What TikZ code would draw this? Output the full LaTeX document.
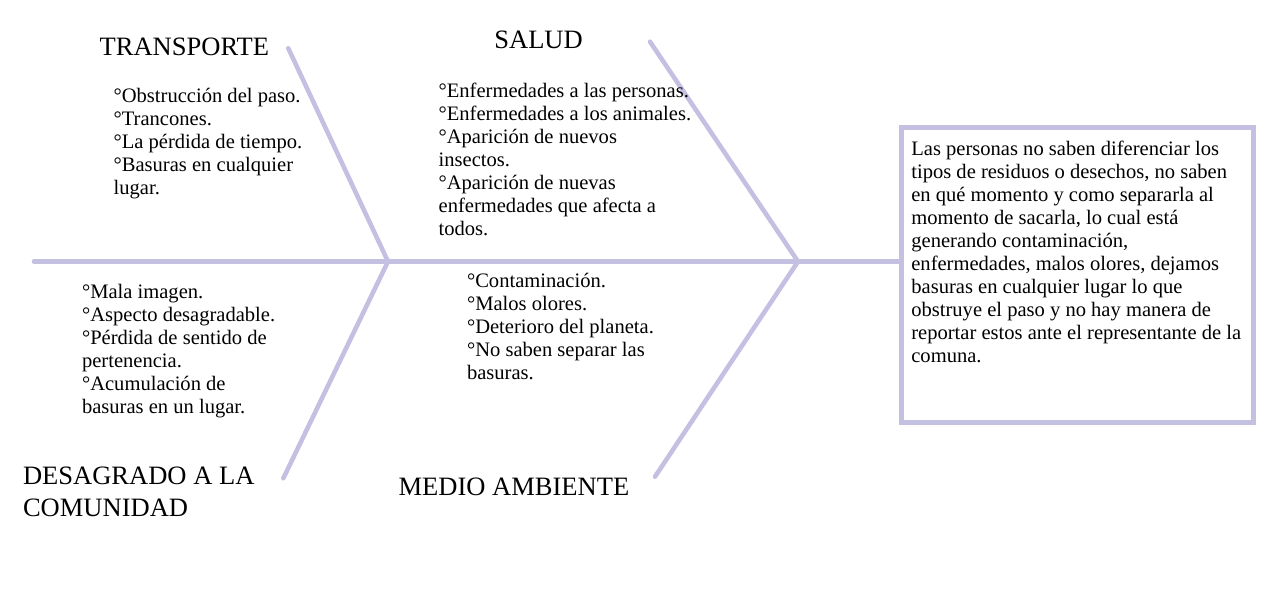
\documentclass[tikz,border=0pt]{standalone}
\usepackage{fontspec}
\setmainfont{Liberation Serif}
\usepackage{xcolor}
\usetikzlibrary{positioning}
\definecolor{lila}{RGB}{196,192,226}

\begin{document}
\begin{tikzpicture}[
  x=0.02cm, y=-0.02cm,
  espina/.style={draw=lila,line width=2.6pt,line cap=round},
  caja/.style={draw=lila,line width=2.85pt,minimum width=7.05cm,minimum height=5.9cm,
               inner sep=0pt,outer sep=0pt,anchor=north west},
  titulo/.style={font=\fontsize{15.1}{18}\selectfont,align=left,inner sep=0pt},
  lista/.style={font=\fontsize{11.7}{13.1}\selectfont,align=left,inner sep=0pt,anchor=north west}
]
\useasboundingbox (0,0) rectangle (1269,589);

% espina central y uniones
\coordinate (cola) at (34,261.5);
\coordinate (u1) at (388,261.5);
\coordinate (u2) at (798,261.5);
\coordinate (transp) at (288.3,48.3);
\coordinate (salud) at (650,41.7);
\coordinate (desag) at (283.3,478.3);
\coordinate (medio) at (655,476.7);

% efecto
\node[caja] (efecto) at (901.5,127.5) {};
\node[lista] (problema) at (911,141) {Las personas no saben diferenciar los\\
  tipos de residuos o desechos, no saben\\
  en qué momento y como separarla al\\
  momento de sacarla, lo cual está\\
  generando contaminación,\\
  enfermedades, malos olores, dejamos\\
  basuras en cualquier lugar lo que\\
  obstruye el paso y no hay manera de\\
  reportar estos ante el representante de la\\
  comuna.};

\draw[espina] (cola) -- (cola -| efecto.west);
\draw[espina] (transp) -- (u1) -- (desag);
\draw[espina] (salud) -- (u2) -- (medio);

% categorias
\node[titulo,anchor=base west] (tTransp) at (99.3,55) {TRANSPORTE};
\node[titulo,anchor=base west] (tSalud) at (494,48.3) {SALUD};
\node[titulo,anchor=north west] (tDesag) at (22.7,467) {DESAGRADO A LA\\COMUNIDAD};
\node[titulo,anchor=base west] (tMedio) at (398.3,495) {MEDIO AMBIENTE};

% causas
\node[lista] (cTransp) at (113.3,87.6) {°Obstrucción del paso.\\
  °Trancones.\\
  °La pérdida de tiempo.\\
  °Basuras en cualquier\\
  lugar.};
\node[lista] (cSalud) at (438.3,82.5) {°Enfermedades a las personas.\\
  °Enfermedades a los animales.\\
  °Aparición de nuevos\\
  insectos.\\
  °Aparición de nuevas\\
  enfermedades que afecta a\\
  todos.};
\node[lista] (cDesag) at (81.7,283.5) {°Mala imagen.\\
  °Aspecto desagradable.\\
  °Pérdida de sentido de\\
  pertenencia.\\
  °Acumulación de\\
  basuras en un lugar.};
\node[lista] (cMedio) at (466.7,272.7) {°Contaminación.\\
  °Malos olores.\\
  °Deterioro del planeta.\\
  °No saben separar las\\
  basuras.};
\end{tikzpicture}
\end{document}
